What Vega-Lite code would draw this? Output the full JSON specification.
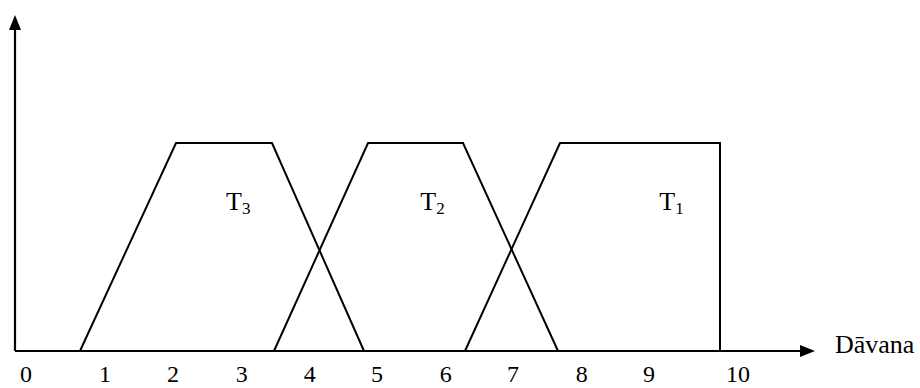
{
  "$schema": "https://vega.github.io/schema/vega-lite/v6.json",
  "width": 920,
  "height": 388,
  "autosize": "none",
  "padding": 0,
  "background": "white",
  "config": {"view": {"stroke": null}},
  "datasets": {
    "shapes": [
      {"set": "T3", "order": 1, "x": 0.632, "y": 0},
      {"set": "T3", "order": 2, "x": 2.044, "y": 1},
      {"set": "T3", "order": 3, "x": 3.456, "y": 1},
      {"set": "T3", "order": 4, "x": 4.809, "y": 0},
      {"set": "T2", "order": 1, "x": 3.485, "y": 0},
      {"set": "T2", "order": 2, "x": 4.868, "y": 1},
      {"set": "T2", "order": 3, "x": 6.265, "y": 1},
      {"set": "T2", "order": 4, "x": 7.662, "y": 0},
      {"set": "T1", "order": 1, "x": 6.294, "y": 0},
      {"set": "T1", "order": 2, "x": 7.691, "y": 1},
      {"set": "T1", "order": 3, "x": 10.044, "y": 1},
      {"set": "T1", "order": 4, "x": 10.044, "y": 0}
    ],
    "axes": [
      {"axis": "x", "order": 1, "x": -0.3235, "y": 0},
      {"axis": "x", "order": 2, "x": 11.3, "y": 0},
      {"axis": "y", "order": 1, "x": -0.3235, "y": 0},
      {"axis": "y", "order": 2, "x": -0.3235, "y": 1.56}
    ],
    "ticks": [
      {"label": "0", "x": -0.162, "y": -0.1154},
      {"label": "1", "x": 1.0, "y": -0.1154},
      {"label": "2", "x": 2.0, "y": -0.1154},
      {"label": "3", "x": 3.01, "y": -0.1154},
      {"label": "4", "x": 4.01, "y": -0.1154},
      {"label": "5", "x": 5.0, "y": -0.1154},
      {"label": "6", "x": 6.01, "y": -0.1154},
      {"label": "7", "x": 7.0, "y": -0.1154},
      {"label": "8", "x": 8.01, "y": -0.1154},
      {"label": "9", "x": 9.0, "y": -0.1154},
      {"label": "10", "x": 10.31, "y": -0.1154}
    ],
    "names": [
      {"main": "T", "sub": "3", "x": 2.78, "y": 0.678},
      {"main": "T", "sub": "2", "x": 5.635, "y": 0.678},
      {"main": "T", "sub": "1", "x": 9.15, "y": 0.678}
    ]
  },
  "encoding": {
    "x": {"field": "x", "type": "quantitative", "scale": {"domain": [-0.5441, 12.9853], "nice": false, "zero": false}, "axis": null},
    "y": {"field": "y", "type": "quantitative", "scale": {"domain": [-0.1779, 1.6875], "nice": false, "zero": false}, "axis": null}
  },
  "layer": [
    {
      "data": {"name": "shapes"},
      "mark": {"type": "line", "color": "black", "strokeWidth": 2, "strokeJoin": "miter"},
      "encoding": {"detail": {"field": "set"}, "order": {"field": "order", "type": "quantitative"}}
    },
    {
      "data": {"name": "axes"},
      "mark": {"type": "line", "color": "black", "strokeWidth": 2.2},
      "encoding": {"detail": {"field": "axis"}, "order": {"field": "order", "type": "quantitative"}}
    },
    {
      "data": {"values": [{"x": 11.331, "y": 0}]},
      "mark": {"type": "point", "shape": "M-1,-0.8L1,0L-1,0.8Z", "filled": true, "color": "black", "opacity": 1, "size": 225}
    },
    {
      "data": {"values": [{"x": -0.3235, "y": 1.579}]},
      "mark": {"type": "point", "shape": "M-0.8,1L0,-1L0.8,1Z", "filled": true, "color": "black", "opacity": 1, "size": 225}
    },
    {
      "data": {"name": "ticks"},
      "mark": {"type": "text", "font": "Liberation Serif", "fontSize": 24, "color": "black", "align": "center", "baseline": "middle"},
      "encoding": {"text": {"field": "label"}}
    },
    {
      "data": {"values": [{"label": "Dāvana", "x": 11.735, "y": -0.0096}]},
      "mark": {"type": "text", "font": "Liberation Serif", "fontSize": 26, "color": "black", "align": "left", "baseline": "alphabetic"},
      "encoding": {"text": {"field": "label"}}
    },
    {
      "data": {"name": "names"},
      "mark": {"type": "text", "font": "Liberation Serif", "fontSize": 26, "color": "black", "align": "left", "baseline": "alphabetic"},
      "encoding": {"text": {"field": "main"}}
    },
    {
      "data": {"name": "names"},
      "mark": {"type": "text", "font": "Liberation Serif", "fontSize": 17, "color": "black", "align": "left", "baseline": "alphabetic", "dx": 16, "dy": 4},
      "encoding": {"text": {"field": "sub"}}
    }
  ]
}
